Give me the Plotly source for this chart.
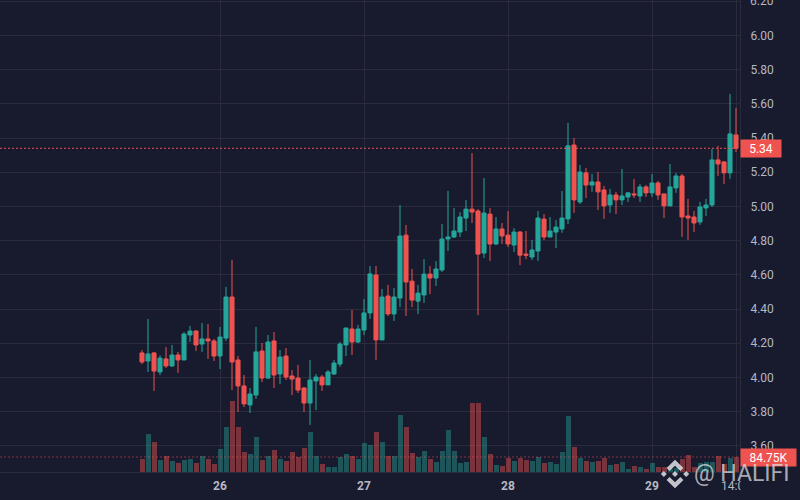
"""Hourly candles with volume, redrawn from a screenshot."""

from __future__ import annotations

import pandas as pd
import plotly.graph_objects as go

W, H = 800, 500
PLOT_W, PLOT_H = 740, 472

BG = "#181a2e"
GRID = "#2a2c3e"
UP = "#26a69a"
DOWN = "#ef5350"
LABEL = "#b6b8c2"
FONT = "Roboto"

times = pd.date_range("2024-01-25 11:00", periods=100, freq="h")

opens = [
    4.143, 4.096, 4.143, 4.032, 4.108, 4.067, 4.131, 4.102, 4.248, 4.271,
    4.195, 4.225, 4.213, 4.125, 4.230, 4.470, 4.102, 3.950, 3.839, 3.897,
    4.154, 3.996, 4.213, 4.020, 4.125, 4.008, 3.996, 3.938, 3.850, 3.979,
    4.002, 3.956, 4.020, 4.078, 4.190, 4.283, 4.207, 4.277, 4.377, 4.599,
    4.219, 4.476, 4.371, 4.464, 4.832, 4.563, 4.446, 4.482, 4.604, 4.581,
    4.628, 4.809, 4.821, 4.850, 4.932, 4.984, 4.973, 4.727, 4.955, 4.780,
    4.868, 4.832, 4.774, 4.850, 4.721, 4.704, 4.739, 4.926, 4.821, 4.850,
    4.868, 4.927, 5.359, 5.026, 5.196, 5.125, 5.143, 5.096, 5.008, 5.067,
    5.038, 5.055, 5.073, 5.061, 5.114, 5.079, 5.137, 5.073, 5.003, 5.108,
    5.178, 4.944, 4.938, 4.909, 4.991, 5.008, 5.272, 5.260, 5.196, 5.418,
]
highs = [
    4.160, 4.342, 4.149, 4.129, 4.178, 4.190, 4.149, 4.264, 4.301, 4.277,
    4.318, 4.312, 4.225, 4.295, 4.529, 4.687, 4.125, 4.014, 3.938, 4.295,
    4.201, 4.248, 4.265, 4.160, 4.172, 4.043, 4.072, 3.944, 4.102, 4.020,
    4.014, 4.043, 4.102, 4.207, 4.289, 4.394, 4.307, 4.459, 4.652, 4.652,
    4.517, 4.541, 4.523, 5.008, 4.891, 4.634, 4.540, 4.692, 4.651, 4.680,
    4.897, 5.090, 4.990, 4.967, 5.037, 5.312, 4.984, 5.166, 4.990, 4.938,
    4.903, 4.973, 4.873, 4.856, 4.856, 4.803, 4.973, 4.955, 4.938, 4.920,
    5.090, 5.488, 5.400, 5.242, 5.225, 5.190, 5.201, 5.120, 5.102, 5.085,
    5.219, 5.085, 5.161, 5.131, 5.125, 5.190, 5.149, 5.073, 5.248, 5.196,
    5.190, 5.044, 4.973, 5.026, 5.044, 5.336, 5.354, 5.266, 5.658, 5.576,
]
lows = [
    4.078, 4.032, 3.921, 4.014, 4.055, 4.061, 4.026, 4.102, 4.207, 4.154,
    4.149, 4.108, 4.096, 4.049, 4.213, 3.926, 3.798, 3.827, 3.792, 3.874,
    3.973, 3.990, 3.938, 3.961, 3.985, 3.897, 3.909, 3.798, 3.722, 3.809,
    3.921, 3.956, 4.014, 4.061, 4.125, 4.131, 4.201, 4.248, 4.342, 4.102,
    4.219, 4.359, 4.330, 4.411, 4.359, 4.411, 4.370, 4.435, 4.487, 4.534,
    4.616, 4.739, 4.815, 4.821, 4.856, 4.903, 4.365, 4.698, 4.680, 4.774,
    4.780, 4.762, 4.733, 4.657, 4.692, 4.686, 4.680, 4.803, 4.821, 4.756,
    4.845, 4.897, 4.962, 5.014, 5.049, 5.085, 4.979, 4.927, 4.962, 4.956,
    5.008, 5.026, 5.049, 5.026, 5.055, 5.055, 5.038, 4.932, 5.003, 5.079,
    4.821, 4.804, 4.851, 4.892, 4.944, 4.997, 5.178, 5.131, 5.161, 5.318,
]
closes = [
    4.090, 4.137, 4.037, 4.113, 4.067, 4.131, 4.102, 4.254, 4.271, 4.190,
    4.225, 4.213, 4.125, 4.236, 4.470, 4.090, 3.950, 3.845, 3.903, 4.149,
    3.996, 4.207, 4.014, 4.119, 4.002, 3.990, 3.926, 3.850, 3.985, 4.002,
    3.956, 4.032, 4.084, 4.195, 4.289, 4.207, 4.283, 4.377, 4.605, 4.219,
    4.470, 4.371, 4.470, 4.827, 4.558, 4.452, 4.493, 4.604, 4.581, 4.634,
    4.809, 4.821, 4.856, 4.938, 4.984, 4.967, 4.721, 4.961, 4.780, 4.868,
    4.827, 4.780, 4.850, 4.715, 4.715, 4.745, 4.932, 4.821, 4.856, 4.879,
    4.932, 5.354, 5.038, 5.201, 5.125, 5.143, 5.085, 5.003, 5.067, 5.038,
    5.061, 5.079, 5.067, 5.114, 5.079, 5.137, 5.067, 5.003, 5.114, 5.178,
    4.938, 4.932, 4.903, 4.997, 5.008, 5.272, 5.248, 5.196, 5.424, 5.340,
]
volumes_k = [
    75.3, 216.6, 171.4, 69.7, 92.3, 64.0, 52.7, 69.7, 75.3, 52.7,
    92.3, 75.3, 47.1, 131.8, 256.1, 403.0, 256.1, 114.9, 103.6, 199.6,
    69.7, 92.3, 126.2, 75.3, 64.0, 114.9, 84.7, 137.5, 227.8, 92.3,
    47.1, 30.1, 30.1, 86.6, 103.6, 92.3, 75.3, 165.7, 154.4, 227.8,
    171.4, 92.3, 92.3, 323.9, 256.1, 109.2, 86.6, 120.5, 75.3, 58.4,
    120.5, 239.1, 120.5, 52.7, 58.4, 391.7, 391.7, 199.6, 103.6, 41.4,
    35.8, 81.0, 64.0, 81.0, 69.7, 64.0, 86.6, 52.7, 58.4, 47.1,
    114.9, 318.2, 143.1, 81.0, 64.0, 58.4, 64.0, 81.0, 41.4, 47.1,
    58.4, 18.8, 35.8, 30.1, 18.8, 52.7, 30.1, 30.1, 18.8, 22.6,
    75.3, 97.9, 30.1, 52.7, 58.4, 58.4, 92.3, 47.1, 81.0, 84.75,
]

price_ticks = [3.6, 3.8, 4.0, 4.2, 4.4, 4.6, 4.8, 5.0, 5.2, 5.4, 5.6, 5.8, 6.0, 6.2]
time_ticks = ["2024-01-26 00:00", "2024-01-27 00:00", "2024-01-28 00:00", "2024-01-29 00:00", "2024-01-29 14:00"]
time_labels = ["<b>26</b>", "<b>27</b>", "<b>28</b>", "<b>29</b>", "14:00"]

last_price = closes[-1]
last_volume = volumes_k[-1]
top_tick = price_ticks[-1]


def px_x(x: float) -> float:
    return x / PLOT_W


def px_y(y: float) -> float:
    return 1 - y / PLOT_H


def polygon(points: list[tuple[float, float]], cx: float, cy: float) -> str:
    # watermark logo is laid out in screen pixels around its centre
    parts = [f"{px_x(cx + x):.5f},{px_y(cy + y):.5f}" for x, y in points]
    return "M" + " L".join(parts) + " Z"


def diamond(cx: float, cy: float, r: float) -> list[tuple[float, float]]:
    return [(cx, cy - r), (cx + r, cy), (cx, cy + r), (cx - r, cy)]


CHEVRON = [(0, -14.3), (8.4, -5.9), (5.4, -2.9), (0, -8.3), (-5.4, -2.9), (-8.4, -5.9)]
logo_parts = [
    CHEVRON,
    [(x, -y) for x, y in CHEVRON],
    diamond(0, 0, 3),
    diamond(-11.2, 0, 3),
    diamond(11.2, 0, 3),
]

volume_colors = [
    "rgba(38,166,154,0.42)" if c >= o else "rgba(239,83,80,0.45)"
    for o, c in zip(opens, closes)
]

fig = go.Figure()
fig.add_trace(
    go.Bar(
        x=times,
        y=volumes_k,
        width=3_000_000,
        marker={"color": volume_colors, "line": {"width": 0}},
        yaxis="y",
        hoverinfo="skip",
    )
)
fig.add_trace(
    go.Candlestick(
        x=times,
        open=opens,
        high=highs,
        low=lows,
        close=closes,
        yaxis="y2",
        whiskerwidth=0,
        increasing={"line": {"color": UP, "width": 1}, "fillcolor": UP},
        decreasing={"line": {"color": DOWN, "width": 1}, "fillcolor": DOWN},
    )
)

shapes = [
    {
        "type": "line", "xref": "paper", "x0": 0, "x1": 1,
        "yref": "y2", "y0": last_price, "y1": last_price,
        "line": {"color": DOWN, "width": 1, "dash": "2px,2px"}, "layer": "above",
    },
    {
        "type": "line", "xref": "paper", "x0": 0, "x1": 1,
        "yref": "y", "y0": last_volume, "y1": last_volume,
        "line": {"color": "rgba(239,83,80,0.5)", "width": 1, "dash": "2px,2px"}, "layer": "above",
    },
    # hides the part of the last time label that runs under the price scale
    {
        "type": "rect", "xref": "paper", "yref": "paper",
        "x0": px_x(740.5), "x1": px_x(W), "y0": px_y(H), "y1": px_y(473),
        "fillcolor": BG, "line": {"width": 0}, "layer": "above",
    },
]
for part in logo_parts:
    shapes.append(
        {
            "type": "path", "xref": "paper", "yref": "paper",
            "path": polygon(part, 675, 474),
            "fillcolor": "rgba(226,226,230,0.85)", "line": {"width": 0}, "layer": "above",
        }
    )

annotations = [
    # plotly hides a tick label that runs past the page top, the reference shows it cut
    {
        "text": f"{top_tick:.2f}", "xref": "paper", "x": 1, "xanchor": "left", "xshift": 9,
        "yref": "y2", "y": top_tick, "yanchor": "middle",
        "showarrow": False, "borderpad": 0,
        "font": {"family": FONT, "size": 12, "color": LABEL},
    },
    {
        "text": f"{last_price:.2f}", "xref": "paper", "x": 1, "xanchor": "left",
        "yref": "y2", "y": last_price, "yanchor": "middle",
        "width": 40, "height": 17, "bgcolor": DOWN, "borderpad": 0, "showarrow": False,
        "font": {"family": FONT, "size": 12, "color": "#ffffff"},
    },
    {
        "text": f"{last_volume:.2f}K", "xref": "paper", "x": 1, "xanchor": "left",
        "yref": "y", "y": last_volume, "yanchor": "middle",
        "width": 55, "height": 17, "bgcolor": DOWN, "borderpad": 0, "showarrow": False,
        "font": {"family": FONT, "size": 12, "color": "#ffffff"},
    },
    {
        "text": "@ HALIFI", "xref": "paper", "yref": "paper",
        "x": px_x(693), "xanchor": "left", "y": px_y(473), "yanchor": "middle",
        "showarrow": False, "borderpad": 0,
        "font": {"family": FONT, "size": 23, "color": "rgba(226,226,230,0.72)"},
    },
]

fig.update_layout(
    width=W,
    height=H,
    autosize=False,
    margin={"l": 0, "r": W - PLOT_W, "t": 0, "b": H - PLOT_H, "pad": 0},
    paper_bgcolor=BG,
    plot_bgcolor=BG,
    showlegend=False,
    boxgap=0.2,
    boxgroupgap=0.15,
    bargap=0,
    font={"family": FONT, "size": 12, "color": LABEL},
    xaxis={
        "type": "date",
        "range": ["2024-01-24 11:20", "2024-01-29 14:40"],
        "tickmode": "array",
        "tickvals": time_ticks,
        "ticktext": time_labels,
        "ticks": "",
        "ticklabelstandoff": 3,
        "tickangle": 0,
        "showgrid": True,
        "gridcolor": GRID,
        "gridwidth": 1,
        "showline": True,
        "linecolor": GRID,
        "zeroline": False,
        "rangeslider": {"visible": False},
    },
    yaxis={"range": [0, 2667], "visible": False, "fixedrange": True},
    yaxis2={
        "overlaying": "y",
        "side": "right",
        "range": [3.4468, 6.207],
        "tickmode": "array",
        "tickvals": price_ticks,
        "ticktext": [f"{t:.2f}" for t in price_ticks],
        "ticks": "",
        "ticklabelstandoff": 7,
        "showgrid": True,
        "gridcolor": GRID,
        "gridwidth": 1,
        "showline": True,
        "linecolor": GRID,
        "zeroline": False,
    },
    shapes=shapes,
    annotations=annotations,
)

# the page's default body margin would push the chart 8px off the window corner
fig.write_html(
    "out.html",
    config={"displayModeBar": False},
    post_script="document.body.style.margin='0';document.body.style.overflow='hidden';",
)
